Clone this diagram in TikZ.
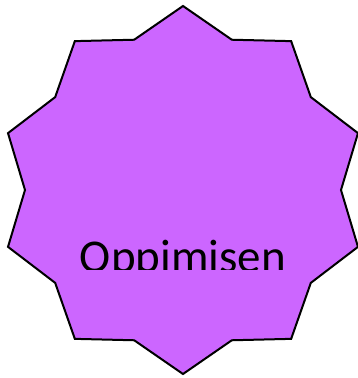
\documentclass[tikz,border=0pt]{standalone}
\usepackage{fontspec}
\setmainfont{Carlito}
\definecolor{starfill}{HTML}{CC66FF}
\tikzset{starshape/.style={fill=starfill,draw=black,line width=2pt,line join=miter},
  lbl/.style={font=\fontsize{47}{50}\selectfont,anchor=base,inner sep=0pt}}
\begin{document}
\begin{tikzpicture}[x=1pt,y=1pt]
\useasboundingbox (0,0) rectangle (357,378);
\coordinate (c) at (183,188);
\draw[starshape] plot[samples at={0,...,19}] ({183+(mod(\x,2)==0?184:158)*cos(90+18*\x)},{188+(mod(\x,2)==0?184:158)*sin(90+18*\x)}) -- cycle;
\begin{scope}
\clip (0,108) rectangle (357,378);
\node[lbl] (t) at (183,105) {Oppimisen};
\end{scope}
\end{tikzpicture}
\end{document}
